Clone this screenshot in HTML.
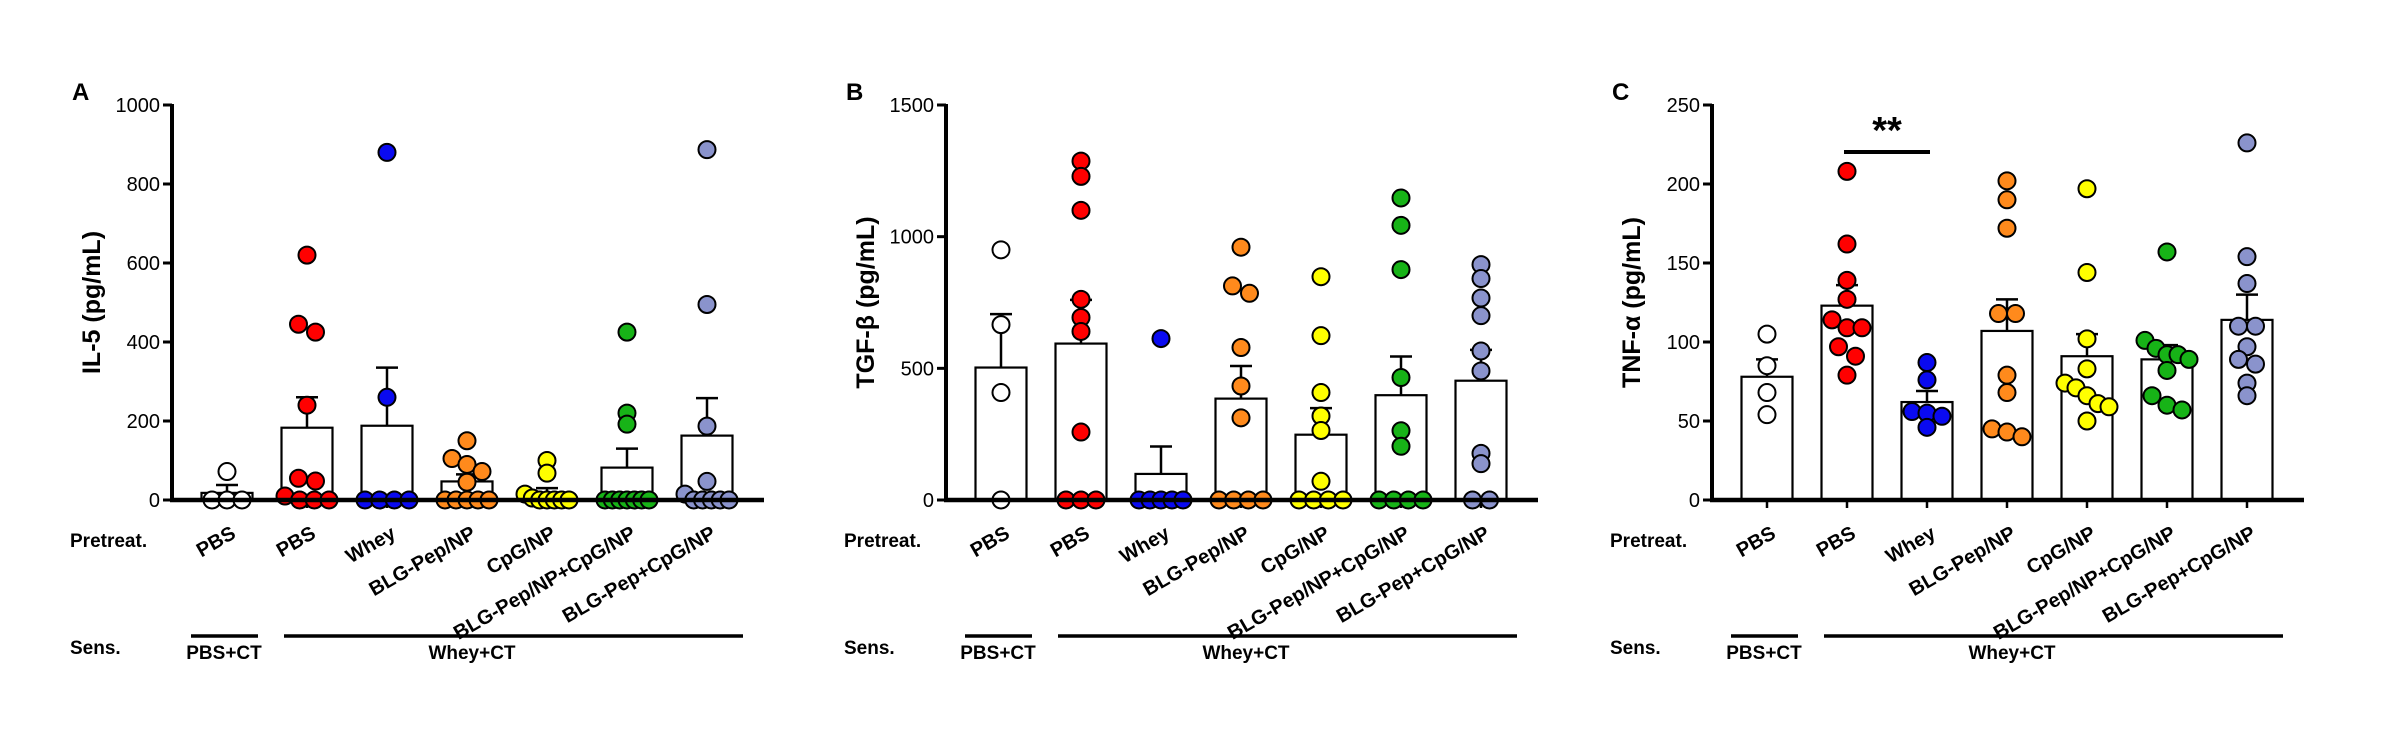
<!DOCTYPE html>
<html><head><meta charset="utf-8">
<style>
html,body{margin:0;padding:0;background:#fff;}
svg{display:block;font-family:"Liberation Sans",sans-serif;}
</style></head>
<body>
<svg id="fig" width="2384" height="732" viewBox="0 0 2384 732" xmlns="http://www.w3.org/2000/svg"></svg>
<script>
const categories = ["PBS","PBS","Whey","BLG-Pep/NP","CpG/NP","BLG-Pep/NP+CpG/NP","BLG-Pep+CpG/NP"];
const colors = ["#ffffff","#ff0000","#0a0af0","#ff8a1c","#ffff00","#17b317","#8a93cc"];

const il5Means = [18,183,188,47,18,82,163];
const il5Sem = [38,260,335,65,30,130,258];
const il5Points = [
 [72,0,0,0],
 [620,445,425,240,55,48,10,0,0,0],
 [880,260,0,0,0,0],
 [150,105,90,72,45,0,0,0,0,0],
 [100,68,15,5,0,0,0,0,0],
 [425,220,192,0,0,0,0,0,0,0],
 [887,495,187,47,15,0,0,0,0,0]
];
const il5Ticks = [0,200,400,600,800,1000];

const tgfMeans = [503,594,99,385,248,398,453];
const tgfSem = [706,760,203,509,349,545,570];
const tgfPoints = [
 [950,666,408,0],
 [1287,1229,1100,762,693,640,258,0,0,0],
 [613,0,0,0,0,0],
 [960,813,785,579,433,312,0,0,0,0],
 [848,624,408,319,264,71,0,0,0,0],
 [1147,1043,875,465,263,204,0,0,0,0],
 [894,841,767,700,566,490,177,138,0,0]
];
const tgfTicks = [0,500,1000,1500];

const tnfMeans = [78,123,62,107,91,89,114];
const tnfSem = [89,136,69,127,105,98,130];
const tnfPoints = [
 [105,85,68,54],
 [208,162,139,127,114,109,109,97,91,79],
 [87,76,56,55,53,46],
 [202,190,172,118,118,79,68,45,43,40],
 [197,144,102,83,74,71,66,61,59,50],
 [157,101,96,92,92,89,82,66,60,57],
 [226,154,137,110,110,97,89,86,74,66]
];
const tnfTicks = [0,50,100,150,200,250];

const NS = "http://www.w3.org/2000/svg";
const svg = document.getElementById('fig');
function el(tag, attrs, parent, text){
  const e = document.createElementNS(NS, tag);
  for (const k in attrs) e.setAttribute(k, attrs[k]);
  if (text !== undefined) e.textContent = text;
  (parent||svg).appendChild(e);
  return e;
}

function panel(cfg){
  const g = el('g', {});
  
  
  const ax = cfg.ax, y0 = 500, yTop = 105, maxV = cfg.max;
  const yScale = v => y0 - (v / maxV) * (y0 - yTop);
  const xScale = i => ax + 55 + i * 80;
  const bw = 51, r = 8.5;

  const L = el('text', {x: ax - 100, y: 100, 'font-size': 24, 'font-weight': 'bold'}, g, cfg.letter);
  
  

  const ttl = el('text', {x: 0, y: 0, 'font-size': 25, 'font-weight': 'bold', 'text-anchor': 'middle',
    transform: `translate(${ax - 72},${(y0 + yTop) / 2}) rotate(-90)`}, g, cfg.title);
  
  

  cfg.ticks.forEach(t => {
    const yy = yScale(t);
    const tk = el('line', {x1: ax - 9, x2: ax, y1: yy, y2: yy, stroke: '#000', 'stroke-width': 3}, g);
    
    
    const tl = el('text', {x: ax - 12, y: yy + 7, 'font-size': 20, 'text-anchor': 'end'}, g, String(t));
    
    
  });

  categories.forEach((c, i) => {
    const cx = xScale(i);
    const top = yScale(cfg.means[i]);
    const b = el('rect', {x: cx - bw / 2, y: top, width: bw, height: y0 - top, fill: '#fff', stroke: '#000', 'stroke-width': 2.2}, g);
    
    
    const ey = yScale(cfg.sem[i]);
    const e1 = el('line', {x1: cx, x2: cx, y1: top, y2: ey, stroke: '#000', 'stroke-width': 2.5}, g);
    
    
    const e2 = el('line', {x1: cx - 11, x2: cx + 11, y1: ey, y2: ey, stroke: '#000', 'stroke-width': 2.5}, g);
    
    
    const xt = el('line', {x1: cx, x2: cx, y1: y0, y2: y0 + 8, stroke: '#000', 'stroke-width': 2.5}, g);
    
    
    const lbl = el('text', {x: 0, y: 0, 'font-size': 20, 'font-weight': 'bold', 'text-anchor': 'end',
      transform: `translate(${cx + 10},${537}) rotate(-30)`}, g, c);
    
    
  });

  const yAx = el('line', {x1: ax, x2: ax, y1: yTop - 1, y2: y0 + 2, stroke: '#000', 'stroke-width': 4}, g);
  
  

  categories.forEach((c, i) => {
    const cx = xScale(i);
    const ys = cfg.points[i].map(v => yScale(v)).sort((a, b) => a - b);
    const rows = [];
    ys.forEach(py => {
      const last = rows[rows.length - 1];
      if (last && py - last[last.length - 1] < 10) last.push(py); else rows.push([py]);
    });
    rows.forEach(row => {
      const n = row.length;
      const sp = n <= 2 ? 17 : Math.min(15, 44 / (n - 1));
      row.forEach((py, j) => {
        const px = cx + (j - (n - 1) / 2) * sp;
        const d = el('circle', {cx: px, cy: py, r: r, fill: colors[i], stroke: '#000', 'stroke-width': 2}, g);
        
        
      });
    });
  });

  const xAx = el('line', {x1: ax - 2, x2: ax + 592, y1: y0, y2: y0, stroke: '#000', 'stroke-width': 4.5}, g);
  
  

  const pt = el('text', {x: ax - 102, y: 547, 'font-size': 19, 'font-weight': 'bold'}, g, 'Pretreat.');
  
  
  const sn = el('text', {x: ax - 102, y: 654, 'font-size': 19, 'font-weight': 'bold'}, g, 'Sens.');
  
  
  const l1 = el('line', {x1: ax + 19, x2: ax + 86, y1: 636, y2: 636, stroke: '#000', 'stroke-width': 3.5}, g);
  
  
  const t1 = el('text', {x: ax + 52, y: 659, 'font-size': 19, 'font-weight': 'bold', 'text-anchor': 'middle'}, g, 'PBS+CT');
  
  
  const l2 = el('line', {x1: ax + 112, x2: ax + 571, y1: 636, y2: 636, stroke: '#000', 'stroke-width': 3.5}, g);
  
  
  const t2 = el('text', {x: ax + 300, y: 659, 'font-size': 19, 'font-weight': 'bold', 'text-anchor': 'middle'}, g, 'Whey+CT');
  
  
  return {g, xScale};
}

panel({name: 'panel-a-il5', letter: 'A', ax: 172, max: 1000, title: 'IL-5 (pg/mL)', ticks: il5Ticks, means: il5Means, sem: il5Sem, points: il5Points});
panel({name: 'panel-b-tgf', letter: 'B', ax: 946, max: 1500, title: 'TGF-β (pg/mL)', ticks: tgfTicks, means: tgfMeans, sem: tgfSem, points: tgfPoints});
const pc = panel({name: 'panel-c-tnf', letter: 'C', ax: 1712, max: 250, title: 'TNF-α (pg/mL)', ticks: tnfTicks, means: tnfMeans, sem: tnfSem, points: tnfPoints});

const sig = el('line', {x1: pc.xScale(1) - 3, x2: pc.xScale(2) + 3, y1: 152, y2: 152, stroke: '#000', 'stroke-width': 4});


const st = el('text', {x: (pc.xScale(1) + pc.xScale(2)) / 2, y: 143, 'font-size': 38, 'font-weight': 'bold', 'text-anchor': 'middle'}, svg, '**');


</script>
</body></html>
